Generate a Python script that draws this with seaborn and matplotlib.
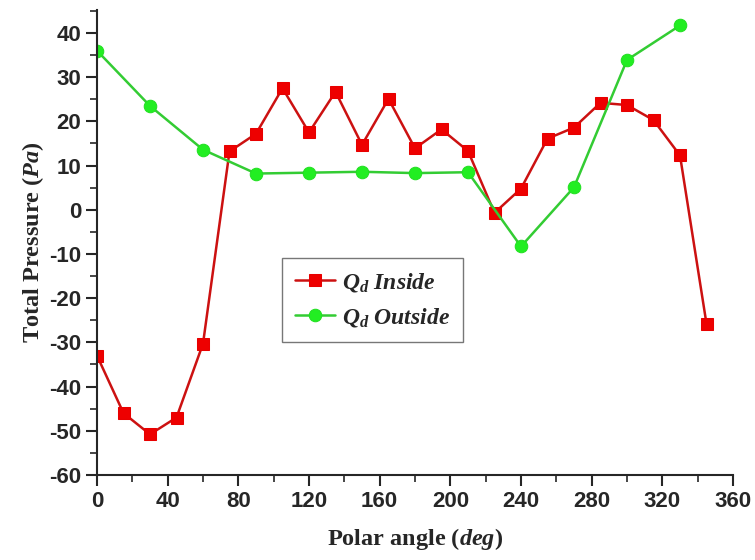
import pandas as pd
import matplotlib
matplotlib.use("Agg")
import matplotlib.pyplot as plt
import seaborn as sns
from matplotlib.ticker import MultipleLocator

# data
angle_inside = [0, 15, 30, 45, 60, 75, 90, 105, 120, 135, 150, 165, 180, 195,
                210, 225, 240, 255, 270, 285, 300, 315, 330, 345]
p_inside = [-33.0, -46.0, -50.8, -47.0, -30.3, 13.2, 17.2, 27.5, 17.5, 26.7,
            14.7, 25.1, 13.9, 18.2, 13.3, -0.7, 4.8, 16.1, 18.6, 24.2, 23.7,
            20.3, 12.3, -25.8]
angle_outside = [0, 30, 60, 90, 120, 150, 180, 210, 240, 270, 300, 330]
p_outside = [36.0, 23.5, 13.6, 8.2, 8.4, 8.6, 8.3, 8.5, -8.3, 5.1, 33.9, 41.7]

inside_df = pd.DataFrame({"angle": angle_inside, "pressure": p_inside})
outside_df = pd.DataFrame({"angle": angle_outside, "pressure": p_outside})

sns.set_style("ticks")
plt.rcParams["font.family"] = ["Liberation Sans", "DejaVu Sans"]
plt.rcParams["axes.unicode_minus"] = False
plt.rcParams["mathtext.fontset"] = "custom"
plt.rcParams["mathtext.it"] = "Liberation Serif:italic:bold"
plt.rcParams["mathtext.rm"] = "Liberation Serif:bold"

fig = plt.figure(figsize=(7.55, 5.6), dpi=100)
ax = fig.add_axes([97 / 755, 85 / 560, 636 / 755, 465 / 560])

sns.lineplot(data=inside_df, x="angle", y="pressure", ax=ax, color="#cc1111",
             marker="s", markersize=8, markeredgecolor="#e80000",
             markerfacecolor="#ee0000", linewidth=1.8,
             label=r"$Q_d$ Inside")
sns.lineplot(data=outside_df, x="angle", y="pressure", ax=ax, color="#33cc33",
             marker="o", markersize=9, markeredgecolor="#22e022",
             markerfacecolor="#22ee22", linewidth=1.8,
             label=r"$Q_d$ Outside")

ax.set_xlim(0, 360)
ax.set_ylim(-60, 45.2)
ax.xaxis.set_major_locator(MultipleLocator(40))
ax.xaxis.set_minor_locator(MultipleLocator(20))
ax.yaxis.set_major_locator(MultipleLocator(10))
ax.yaxis.set_minor_locator(MultipleLocator(5))
ax.tick_params(which="major", length=8, width=1.5, labelsize=16, direction="out")
ax.tick_params(which="minor", length=5, width=1.2, direction="out")
for lab in ax.get_xticklabels() + ax.get_yticklabels():
    lab.set_fontweight("bold")
for side in ["left", "bottom"]:
    ax.spines[side].set_linewidth(1.5)
sns.despine(ax=ax)

ax.set_xlabel(r"Polar angle ($deg$)", fontsize=17.5, fontweight="bold",
              family="Liberation Serif", labelpad=10)
ax.set_ylabel(r"Total Pressure ($Pa$)", fontsize=17.5, fontweight="bold",
              family="Liberation Serif", labelpad=2)

leg = ax.legend(loc="upper left", bbox_to_anchor=(0.291, 0.467), frameon=True,
                fancybox=False, edgecolor="#777777", framealpha=1,
                prop={"family": "Liberation Serif", "weight": "bold",
                      "style": "italic", "size": 17},
                handlelength=1.7, borderpad=0.55, labelspacing=0.5,
                handletextpad=0.3, borderaxespad=0)
leg.get_frame().set_linewidth(1.0)

fig.savefig("out.png", dpi=100)
